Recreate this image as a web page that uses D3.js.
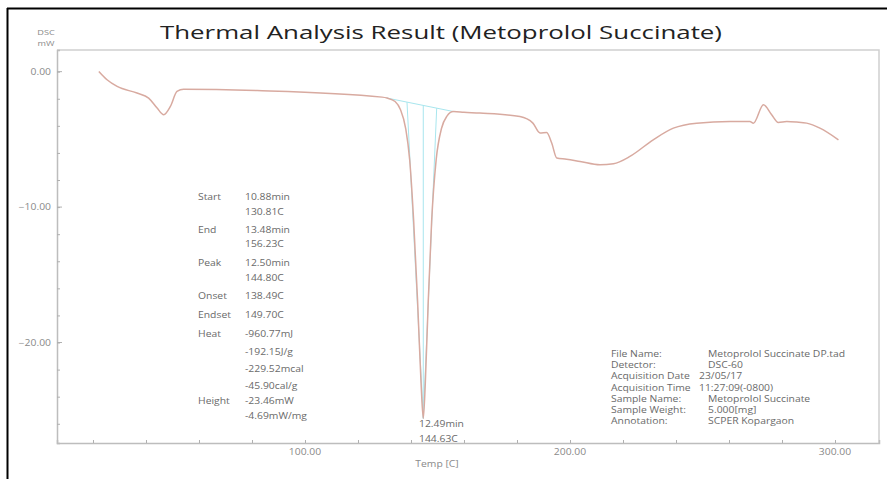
<!DOCTYPE html>
<html><head><meta charset="utf-8">
<script src="https://cdn.jsdelivr.net/npm/d3@7"></script>
<style>html,body{margin:0;padding:0;background:#fff;}svg{display:block;}</style>
</head><body>
<script>
// ---- data ----
const temps = [22.2,25.3,29.1,36.6,41.0,44.2,46.7,49.2,51.7,54.2,81.9,129.1,131,134,136,138,139.5,141,142.5,143.8,144.63,145.4,146.5,147.8,149.5,151.5,153.5,156,160,166,181.1,186.0,188.7,191.2,193.1,195.0,198.7,203.8,211.3,216.4,222.6,231.4,239.0,247.8,260.4,267.9,269.2,273.0,276.1,278.6,281.8,285.5,289.3,294.3,301.3];
const dsc = [0.01,-0.60,-1.09,-1.58,-1.95,-2.69,-3.18,-2.57,-1.46,-1.29,-1.39,-1.88,-1.95,-2.2,-2.8,-4.2,-6.5,-11,-17,-23,-25.6,-23,-17,-11,-6.5,-4.2,-3.3,-2.95,-3.0,-3.06,-3.31,-3.80,-4.53,-4.49,-5.27,-6.38,-6.46,-6.63,-6.88,-6.80,-6.26,-5.03,-4.17,-3.80,-3.68,-3.68,-3.80,-2.44,-3.18,-3.75,-3.68,-3.72,-3.80,-4.17,-5.03];
const xTickValues = [20,40,60,80,100,120,140,160,180,200,220,240,260,280,300];
const xLabelValues = [100,200,300];
const yTickValues = [0,-2,-4,-6,-8,-10,-12,-14,-16,-18,-20,-22,-24,-26];
const yLabelValues = [0,-10,-20];
const analysis = {start:130.81, end:156.23, onset:138.49, endset:149.70, peak:144.63, peakVal:-25.6};
const leftLabels = ["Start","","End","","Peak","","Onset","Endset","Heat","","","","Height",""];
const leftValues = ["10.88min","130.81C","13.48min","156.23C","12.50min","144.80C","138.49C","149.70C","-960.77mJ","-192.15J/g","-229.52mcal","-45.90cal/g","-23.46mW","-4.69mW/mg"];
const leftRowsY = [197,211.5,229.5,244,262.5,278,296,315,333.5,351.5,369,385.5,401,416];
const infoLabels = ["File Name:","Detector:","Acquisition Date","Acquisition Time","Sample Name:","Sample Weight:","Annotation:"];
const infoValues = ["Metoprolol Succinate DP.tad","DSC-60","23/05/17","11:27:09(-0800)","Metoprolol Succinate","5.000[mg]","SCPER Kopargaon"];
const peakLabel = ["12.49min","144.63C"];

// ---- chart ----
const W = 887, H = 479;
const frame = {l:57, t:50, r:879, b:443};
const SX = 1.22; // horizontal stretch of small texts (reference image is widened)
const svg = d3.select("body").append("svg").attr("width",W).attr("height",H)
  .style("font-family","'Open Sans','Noto Sans',sans-serif");

function smallText(sel, fx, fy, opts={}) {
  return sel.append("text")
    .attr("transform",(d,i)=>`translate(${fx(d,i)},${fy(d,i)}) scale(${opts.sx||SX},1)`)
    .attr("text-anchor",opts.anchor||"start")
    .attr("font-size",opts.size||8.5)
    .attr("fill",opts.fill||"#6a6a6a");
}

// outer black border (top + left)
svg.append("line").attr("x1",7).attr("x2",W).attr("y1",8.5).attr("y2",8.5).attr("stroke","#000").attr("stroke-width",2);
svg.append("line").attr("x1",7.5).attr("x2",7.5).attr("y1",8).attr("y2",H).attr("stroke","#000").attr("stroke-width",2);

const x = d3.scaleLinear().domain([6.42,316.6]).range([frame.l,frame.r]);
const y = d3.scaleLinear().domain([1.6,-27.42]).range([frame.t,frame.b]);

// frame top/right
svg.append("path").attr("d",`M${frame.l},${frame.t}H${frame.r}V${frame.b}`)
  .attr("fill","none").attr("stroke","#d0d0d0").attr("stroke-width",1.5);

// axes
const xAxis = svg.append("g").attr("transform",`translate(0,${frame.b})`)
  .call(d3.axisTop(x).tickValues(xTickValues).tickSize(3).tickFormat(""));
const yAxis = svg.append("g").attr("transform",`translate(${frame.l},0)`)
  .call(d3.axisRight(y).tickValues(yTickValues).tickSize(3).tickFormat(""));
[xAxis,yAxis].forEach(g=>{
  g.select(".domain").attr("stroke","#bdbdbd").attr("stroke-width",1.5);
  g.selectAll(".tick line").attr("stroke","#b0b0b0");
});
svg.selectAll(".ymaj").data(yLabelValues).enter().append("line")
  .attr("x1",frame.l).attr("x2",frame.l+5).attr("y1",d=>y(d)).attr("y2",d=>y(d))
  .attr("stroke","#b0b0b0");
smallText(svg.selectAll(".ylab").data(yLabelValues).enter(), ()=>51, d=>y(d)+3, {anchor:"end",fill:"#8a8a8a"})
  .text(d=>d3.format(".2f")(d));
smallText(svg.selectAll(".xlab").data(xLabelValues).enter(), d=>x(d), ()=>455, {anchor:"middle",fill:"#8a8a8a"})
  .text(d=>d3.format(".2f")(d));
smallText(svg.selectAll(".xt").data(["Temp  [C]"]).enter(), ()=>437, ()=>467, {anchor:"middle",fill:"#8a8a8a"}).text(d=>d);
smallText(svg.selectAll(".yt").data(["DSC","mW"]).enter(), ()=>46, (d,i)=>35+i*11, {anchor:"middle",fill:"#8a8a8a",size:7.5}).text(d=>d);

// title
svg.append("text").attr("x",160).attr("y",39).attr("font-size",19).attr("fill","#222")
  .attr("textLength",562).attr("lengthAdjust","spacingAndGlyphs")
  .text("Thermal Analysis Result (Metoprolol Succinate)");

// analysis lines (cyan)
const pts = temps.map((t,i)=>[t,dsc[i]]);
const interp = t => { for(let i=1;i<pts.length;i++){ if(pts[i][0]>=t){const a=pts[i-1],b=pts[i];return a[1]+(b[1]-a[1])*(t-a[0])/(b[0]-a[0]);} } return pts[pts.length-1][1]; };
const bl = t => interp(analysis.start) + (interp(analysis.end)-interp(analysis.start))*(t-analysis.start)/(analysis.end-analysis.start);
const cyan = "#a8e6ee";
const cyanLines = [
  [[analysis.start,bl(analysis.start)],[analysis.end,bl(analysis.end)]],
  [[analysis.onset,bl(analysis.onset)],[analysis.peak,analysis.peakVal]],
  [[analysis.endset,bl(analysis.endset)],[analysis.peak,analysis.peakVal]],
  [[analysis.peak,bl(analysis.peak)],[analysis.peak,analysis.peakVal]]
];
svg.selectAll(".cy").data(cyanLines).enter().append("line")
  .attr("x1",d=>x(d[0][0])).attr("y1",d=>y(d[0][1])).attr("x2",d=>x(d[1][0])).attr("y2",d=>y(d[1][1]))
  .attr("stroke",cyan).attr("stroke-width",1);

// curve
const line = d3.line().x(d=>x(d[0])).y(d=>y(d[1])).curve(d3.curveMonotoneX);
svg.append("path").datum(pts).attr("d",line).attr("fill","none")
  .attr("stroke","#d8aaa0").attr("stroke-width",1.5);

// left analysis text
smallText(svg.selectAll(".ll").data(leftLabels).enter(), ()=>198, (d,i)=>leftRowsY[i]+3).text(d=>d);
smallText(svg.selectAll(".lv").data(leftValues).enter(), ()=>245, (d,i)=>leftRowsY[i]+3).text(d=>d);

// peak label
smallText(svg.selectAll(".pk").data(peakLabel).enter(), ()=>419, (d,i)=>427+i*15).text(d=>d);

// info block
smallText(svg.selectAll(".il").data(infoLabels).enter(), ()=>611, (d,i)=>357+i*11.2).text(d=>d);
smallText(svg.selectAll(".iv").data(infoValues).enter(), (d,i)=> i===2||i===3 ? 699 : 708, (d,i)=>357+i*11.2).text(d=>d);
</script>
</body></html>
